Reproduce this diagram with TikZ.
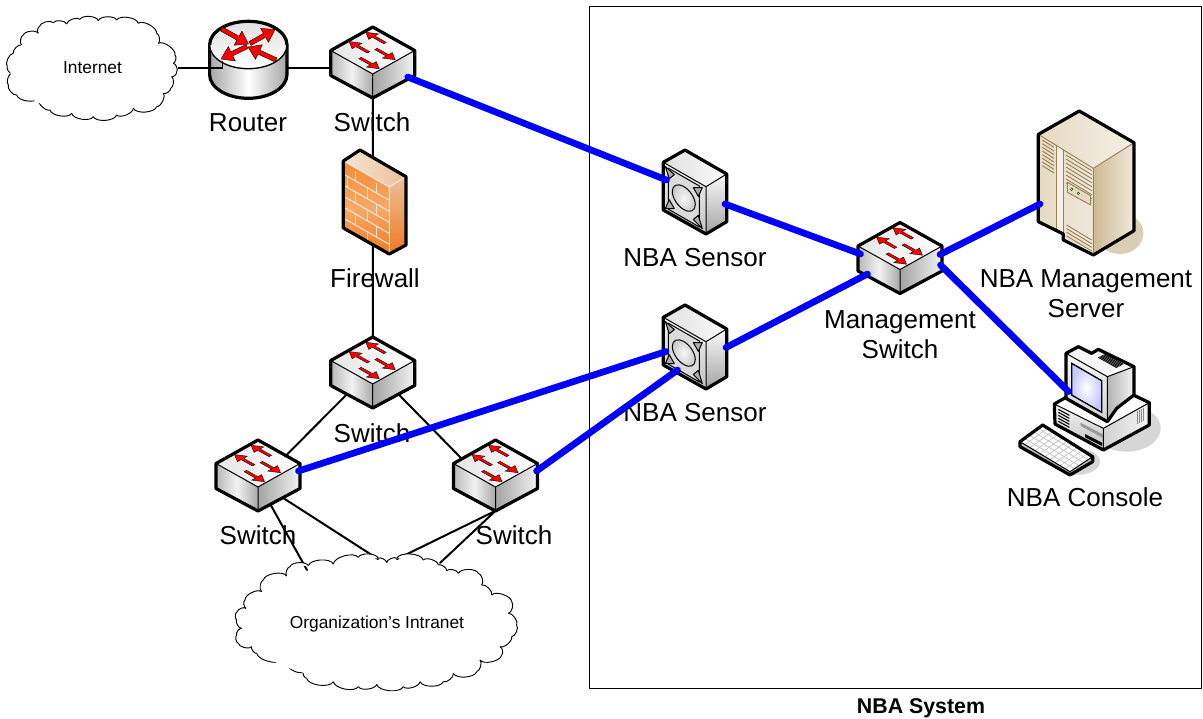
\documentclass[tikz,border=0pt]{standalone}
\usepackage{fontspec}
\setmainfont{Liberation Sans}
\usetikzlibrary{calc}
\definecolor{netblue}{HTML}{0000FF}
\definecolor{bricklt}{HTML}{F4E6D4}
\definecolor{srvline}{HTML}{9A8256}
\definecolor{srvshadow}{HTML}{D9CFB5}
\definecolor{srvtop}{HTML}{F4F0E6}
\definecolor{srvmid}{HTML}{E6DAC2}
\definecolor{srvdark}{HTML}{CDB992}
\definecolor{srvlite}{HTML}{EFE9DB}
\definecolor{fwA}{HTML}{F58A35}
\definecolor{fwB}{HTML}{F8A868}
\definecolor{fwC}{HTML}{F07A22}
\definecolor{fwD}{HTML}{EBC09A}
\tikzset{
  x=0.75pt,y=-0.75pt,
  devnode/.style={inner sep=0pt,outer sep=0pt,minimum width=63pt,minimum height=53pt},
  wire/.style={draw=black,line width=1.5pt,line cap=round},
  blueline/.style={draw=netblue,line width=5pt,line cap=round},
  devedge/.style={draw=black,line width=2.4pt,line join=round},
  thinedge/.style={draw=black,line width=.75pt,line join=round},
  cloudedge/.style={draw=black,line width=.7pt,fill=white},
  biglabel/.style={font=\fontsize{19.5}{22.5}\selectfont,align=center,inner sep=0pt},
  smalllabel/.style={font=\fontsize{13}{15}\selectfont,inner sep=0pt},
  boldlabel/.style={font=\fontsize{16}{18}\selectfont\bfseries,inner sep=0pt},
  redarr/.style={fill=red,draw=black,line width=.3pt,line join=miter},
  switchdev/.pic={
    \shade[left color=black!28,right color=black!34,middle color=black!5] (-42,23.5)--(0,47)--(0,71)--(-42,48.5)--cycle;
    \shade[left color=black!36,right color=black!5] (0,47)--(42,23.5)--(42,48.5)--(0,71)--cycle;
    \shade[left color=black!10,right color=white] (0,0)--(42,23.5)--(0,47)--(-42,23.5)--cycle;
    \draw[thinedge] (-42,23.5)--(0,47)--(42,23.5) (0,47)--(0,71);
    \draw[devedge] (0,0)--(42,23.5)--(42,48.5)--(0,71)--(-42,48.5)--(-42,23.5)--cycle;
    \isoarrow{12.3}{16}{-1}\isoarrow{-4.3}{25.3}{-1}\isoarrow{3.3}{22}{1}\isoarrow{-12.7}{31}{1}
  },
  sensordev/.pic={
    \shade[left color=black!12,right color=black!2] (0,0)--(41.7,23.7)--(21,36.7)--(-21.7,12.3)--cycle;
    \shade[top color=black!4,bottom color=black!24] (-21.7,12.3)--(21,36.7)--(21,84)--(-21.7,60)--cycle;
    \shade[top color=black!2,bottom color=black!36] (21,36.7)--(41.7,24)--(41.7,71.7)--(21,84)--cycle;
    \begin{scope}[shift={(-21.7,12.3)},x={(.75pt,-.43pt)}]
      \draw[thinedge,fill=black!14] (5,3)--(36,3)--(36,44)--(5,44)--cycle;
      \draw[thinedge,fill=black!32] (2,3)--(11,6)--(6,13)--cycle;
      \draw[thinedge,fill=black!32] (39,3)--(30,8)--(35,14)--cycle;
      \draw[thinedge,fill=black!32] (2,45)--(11,40)--(6,34)--cycle;
      \draw[thinedge,fill=black!32] (39,44)--(30,40)--(35,33)--cycle;
      \shade[draw=black,line width=.75pt,inner color=black!3,outer color=black!20] (20.5,24) circle[radius=11.5];
    \end{scope}
    \draw[thinedge] (-21.7,12.3)--(21,36.7)--(41.7,24) (21,36.7)--(21,84);
    \draw[devedge] (0,0)--(41.7,24)--(41.7,71.7)--(21,84)--(-21.7,60)--(-21.7,12.3)--cycle;
  }
}
\newcommand\isoarrow[3]{%
  \begin{scope}[shift={(#1,#2)},x={(#3*.655pt,#3*-.366pt)},y={(-.655pt,-.366pt)}]
    \path[redarr] (0,-1.4)--(13,-1.4)--(13,-5.6)--(22,0)--(13,5.6)--(13,1.4)--(0,1.4)--cycle;
  \end{scope}}
\newcommand\flatarrow[4]{%
  \pgfmathsetmacro\fl{veclen(#3-#1,#4-#2)}%
  \pgfmathsetmacro\fa{atan2(-(#4-#2),#3-#1)}%
  \begin{scope}[shift={(#1,#2)},rotate=\fa]
    \path[redarr] (0,-2.2)--(\fl-12,-2.2)--(\fl-12,-8)--(\fl,0)--(\fl-12,8)--(\fl-12,2.2)--(0,2.2)--cycle;
  \end{scope}}
\newcommand\cloudat[8]{%
  \begin{scope}[shift={(#1,#2)},x=.25pt,y=-.25pt]
    \foreach \cx/\cy [count=\ci,remember=\cx as \lx (initially 0),remember=\cy as \ly (initially 0)] in {#7}{%
      \ifnum\ci>1
        \pgfmathsetmacro\dx{\cx-\lx}\pgfmathsetmacro\dy{\cy-\ly}%
        \draw[cloudedge] (\lx,\ly) .. controls ({\lx+.1*\dx+.26*\dy},{\ly+.1*\dy-.26*\dx}) and ({\cx-.1*\dx+.26*\dy},{\cy-.1*\dy-.26*\dx}) .. (\cx,\cy);
      \fi}
    \fill[white] (#3,#4) ellipse[x radius=#5,y radius=#6];
    #8
  \end{scope}}
\begin{document}
\begin{tikzpicture}
\useasboundingbox (0,0) rectangle (1203,718);
\fill[white] (0,0) rectangle (1203,718);
\node[devnode] (rt) at (248.3,62) {};
\node[devnode] (swa) at (372.7,62.5) {};
\node[devnode] (fw) at (374.5,202) {};
\node[devnode] (swb) at (372.7,372.5) {};
\node[devnode] (swl) at (258,475.5) {};
\node[devnode] (swr) at (495.5,475.5) {};
\node[devnode] (swm) at (900,258) {};
\node[devnode] (sna) at (685,192) {};
\node[devnode] (snb) at (685,347) {};
\node[devnode] (srv) at (1086,183) {};
\node[devnode] (con) at (1095,420) {};
\node[inner sep=0pt,minimum width=126pt,minimum height=72pt] (cin) at (92,68) {};
\node[inner sep=0pt,minimum width=210pt,minimum height=90pt] (cor) at (377,620) {};
\node[draw=black,line width=.75pt,inner sep=0pt,minimum width=459.4pt,minimum height=512.2pt] (sys) at (895.7,347.5) {};
\node[biglabel] (lrt) at (248,122.5) {Router};
\node[biglabel] (lswa) at (372,122.5) {Switch};
\node[biglabel] (lfw) at (375,278.5) {Firewall};
\node[biglabel] (lsna) at (695,257.5) {NBA Sensor};
\node[biglabel] (lsnb) at (695,412.5) {NBA Sensor};
\node[biglabel] (lswm) at (900,334.5) {Management\\Switch};
\node[biglabel] (lswb) at (372,433.5) {Switch};
\node[biglabel] (lswl) at (258,535.5) {Switch};
\node[biglabel] (lswr) at (514,535.5) {Switch};
\node[biglabel] (lsrv) at (1086,293.5) {NBA Management\\Server};
\node[biglabel] (lcon) at (1085,497.5) {NBA Console};
\node[boldlabel] (lsys) at (921,708) {NBA System};
\draw[wire] ([shift={(0,6)}]rt.center)--([shift={(0,5.5)}]swa.center);
\draw[wire] (swa.center)--([shift={(-1.5,0)}]fw.center);
\draw[wire] ([shift={(-1.5,0)}]fw.center)--(swb.center);
\draw[wire] ([shift={(-27,23)}]swb.center)--([shift={(28,-20)}]swl.center);
\draw[wire] ([shift={(27,23)}]swb.center)--([shift={(-34,-17)}]swr.center);
\draw[wire] ([shift={(13,30)}]swl.center)--([shift={(-70,-50)}]cor.center);
\draw[wire] ([shift={(26,23)}]swl.center)--([shift={(1,-61)}]cor.center);
\draw[wire] (swr.south)--([shift={(20,-61)}]cor.center);
\draw[wire] (swr.south)--([shift={(63,-57)}]cor.center);
\cloudat{0}{10}{270}{175}{240}{135}{115/70,118/50,160/38,200/42,240/28,295/32,350/30,415/40,470/70,475/100,525/135,520/160,530/185,515/200,512/235,490/250,470/290,400/295,350/315,280/320,215/310,150/300,115/265,50/255,25/225,35/190,22/170,40/130,65/105,70/75,115/70}{}
\cloudat{230}{550}{430}{225}{390}{170}{22/185,48/175,45/150,95/125,100/90,170/78,180/50,235/47,310/42,385/22,445/25,470/38,500/25,580/30,625/45,650/62,685/70,745/70,755/105,785/135,845/155,835/190,860/225,845/260,810/290,815/315,750/330,740/365,670/370,640/395,570/395,520/410,440/403,385/410,310/395,230/385,220/365,170/340,175/325,80/310,65/290,25/280,20/255,35/235,20/210,22/185}{}
\node[smalllabel] (lcin) at (92.5,68) {Internet};
\node[smalllabel] (lcor) at (377,624) {Organization’s Intranet};
% router
\shade[left color=black!35,right color=black!35,middle color=white] (209.6,45) -- (209.6,74.6) arc[start angle=180,end angle=0,x radius=38.7,y radius=23.7] -- (287,45) -- cycle;
\draw[devedge] (209.6,45) -- (209.6,74.6) arc[start angle=180,end angle=0,x radius=38.7,y radius=23.7] -- (287,45);
\shade[top color=black!12,bottom color=white,draw=black,line width=1pt] (248.3,45) ellipse[x radius=38.7,y radius=23.7];
\draw[devedge] (209.6,45) arc[start angle=180,end angle=360,x radius=38.7,y radius=23.7];
\flatarrow{221.5}{29}{248.5}{44}
\flatarrow{250}{43.5}{275}{29.5}
\flatarrow{276}{60}{248}{47}
\flatarrow{247}{46.5}{221}{59}
\pic at (372.7,27) {switchdev};
\pic at (372.7,337) {switchdev};
\pic at (258,440) {switchdev};
\pic at (495.5,440) {switchdev};
\pic at (900,222.5) {switchdev};
% firewall
\shade[left color=bricklt,right color=fwD] (343.3,161)--(360,150)--(406,176.7)--(389.3,187)--cycle;
\shade[top color=fwD,bottom color=fwC] (389.3,187)--(406,176.7)--(406,245)--(389.3,254)--cycle;
\shade[top color=fwA,bottom color=fwC,middle color=fwB] (343.3,161)--(389.3,187)--(389.3,254)--(343.3,228)--cycle;
\begin{scope}[shift={(343.3,161)},x={(.75pt,-.43pt)}]
  \draw[bricklt,line width=.8pt] (2,13)--(46,13) (2,24)--(46,24) (2,35)--(46,35) (2,46)--(46,46) (2,57)--(46,57);
  \draw[bricklt,line width=.8pt] (12,3)--(12,13) (33,3)--(33,13) (24,13)--(24,24) (4,13)--(4,24) (12,24)--(12,35) (33,24)--(33,35) (24,35)--(24,46) (12,46)--(12,57) (33,46)--(33,57) (24,57)--(24,66);
\end{scope}
\draw[bricklt,line width=.8pt] (343.3,161)--(389.3,187)--(406,176.7) (389.3,187)--(389.3,254);
\draw[devedge] (360,150)--(406,176.7)--(406,245)--(389.3,254)--(343.3,228)--(343.3,161)--cycle;
\pic at (685,150) {sensordev};
\pic at (685,305) {sensordev};
% server
\begin{scope}[shift={(970,100)},x=.25pt,y=-.25pt]
  \fill[srvshadow] (450,400) ellipse[x radius=70,y radius=62];
  \shade[left color=srvmid,right color=srvlite] (205,103)--(370,205)--(370,465)--(280,420)--(280,402)--(205,365)--cycle;
  \shade[left color=srvdark,right color=srvlite] (370,205)--(492,128)--(492,392)--(370,465)--cycle;
  \shade[left color=srvmid,right color=srvtop] (328,33)--(492,128)--(370,205)--(205,103)--cycle;
  \fill[srvtop] (260,135)--(280,147)--(280,402)--(260,392)--cycle;
  \draw[srvline,line width=.6pt] (260,135)--(260,392) (280,147)--(280,420);
  \foreach \d in {0,11,...,77}{\draw[srvline,line width=.7pt] (217,{120+\d})--(252,{142+\d});}
  \foreach \d in {0,12,...,84}{\draw[srvline,line width=.7pt] (288,{165+\d})--(365,{212+\d});}
  \foreach \d in {0,11,22,33}{\draw[srvline,line width=.7pt] (290,{375+\d})--(365,{420+\d});}
  \draw[srvline,line width=.7pt,fill=srvmid] (292,247)--(362,287)--(362,315)--(292,277)--cycle;
  \fill[black!70!green] (305,268) circle[radius=5] (325,280) circle[radius=5];
  \fill[white] (305,268) circle[radius=2] (325,280) circle[radius=2];
  \draw[srvline,line width=.7pt] (205,103)--(370,205)--(492,128) (370,205)--(370,465);
  \draw[devedge] (328,33)--(492,128)--(492,392)--(370,465)--(280,420)--(280,402)--(205,365)--(205,103)--cycle;
\end{scope}
% console
\begin{scope}[shift={(970,100)},x=.25pt,y=-.25pt]
  \fill[black!16] (470,985) ellipse[x radius=102,y radius=70];
  \fill[black!16] (320,1085) ellipse[x radius=70,y radius=40];
  \fill[white] (253,912)--(300,880)--(490,885)--(538,908)--(400,985)--cycle;
  \shade[top color=black!3,bottom color=black!25] (253,912)--(400,985)--(400,1050)--(255,972)--cycle;
  \shade[left color=black!18,right color=black!4] (400,985)--(538,908)--(538,975)--(400,1050)--cycle;
  \foreach \d in {0,9,...,36}{\draw[black,line width=.8pt] (265,{928+\d})--(298,{946+\d});}
  \fill[black!40] (332,968)--(398,1003)--(398,1013)--(332,978)--cycle;
  \fill[black] (345,1002)--(396,1028)--(396,1038)--(345,1012)--cycle;
  \foreach \d in {0,6,12,18}{\draw[black!45,line width=.7pt] ({502+\d},{932-\d*.5})--({502+\d},{972-\d*.5});}
  \draw[thinedge] (253,912)--(400,985)--(538,908) (400,985)--(400,1050);
  \draw[devedge] (253,912)--(300,885)--(345,905)--(490,885)--(538,908)--(538,975)--(400,1050)--(255,972)--cycle;
  \shade[left color=black!30,right color=black!4] (412,830)--(492,800)--(492,885)--(440,925)--(412,965)--cycle;
  \fill[black!3] (288,760)--(325,740)--(365,760)--(385,748)--(492,800)--(412,830)--cycle;
  \foreach \d in {0,5,...,25}{\draw[black,line width=.7pt] ({385+\d*.8},{772-\d*.4})--({440+\d*.8},{803-\d*.4});}
  \shade[top color=black!3,bottom color=black!18] (288,760)--(412,830)--(412,965)--(288,895)--cycle;
  \shade[inner color=white,outer color=blue!22!white,draw=black,line width=1pt] (305,790)--(395,842)--(395,937)--(305,885)--cycle;
  \fill[black!70!green] (380,945) circle[radius=5];
  \draw[devedge] (288,760)--(325,740)--(365,760)--(385,748)--(492,800)--(492,885)--(440,925)--(412,965)--(288,895)--cycle;
  \draw[thinedge] (288,760)--(412,830)--(492,800) (412,830)--(412,965);
  \fill[white] (150,1025)--(218,975)--(368,1070)--(300,1115)--cycle;
  \fill[black!25] (150,1025)--(300,1115)--(368,1070)--(368,1085)--(300,1125)--(150,1040)--cycle;
  \foreach \u in {1,...,9}{\draw[black!25,line width=.5pt] ({150+\u*15},{1025+\u*9})--({218+\u*15},{975+\u*9.5});}
  \foreach \u in {1,2,3,4}{\draw[black!25,line width=.5pt] ({150+\u*13.6},{1025-\u*10})--({300+\u*13.6},{1115-\u*9});}
  \draw[devedge] (150,1025)--(218,975)--(368,1070)--(368,1085)--(300,1125)--(150,1040)--cycle;
  \draw[thinedge] (150,1025)--(300,1115)--(368,1070) (300,1115)--(300,1125);
\end{scope}
\draw[wire,line width=1.1pt,line cap=butt] ([shift={(86,0)}]cin.center)-|([shift={(-26,-1)}]rt.center);
\draw[blueline] ([shift={(35,14.5)}]swa.center)--([shift={(-18.5,-12)}]sna.center);
\draw[blueline] ([shift={(40,12)}]sna.center)--([shift={(-39.5,-4)}]swm.center);
\draw[blueline] ([shift={(41,0.5)}]snb.center)--([shift={(-32.5,16)}]swm.center);
\draw[blueline] ([shift={(-19,4.5)}]snb.center)--([shift={(40.5,-4.5)}]swl.center);
\draw[blueline] ([shift={(-7.5,23)}]snb.center)--([shift={(41,-4.5)}]swr.center);
\draw[blueline] ([shift={(40,-3.5)}]swm.center)--([shift={(-46,21)}]srv.center);
\draw[blueline] ([shift={(40.5,7)}]swm.center)--([shift={(-26.5,-28.5)}]con.center);
\end{tikzpicture}
\end{document}
